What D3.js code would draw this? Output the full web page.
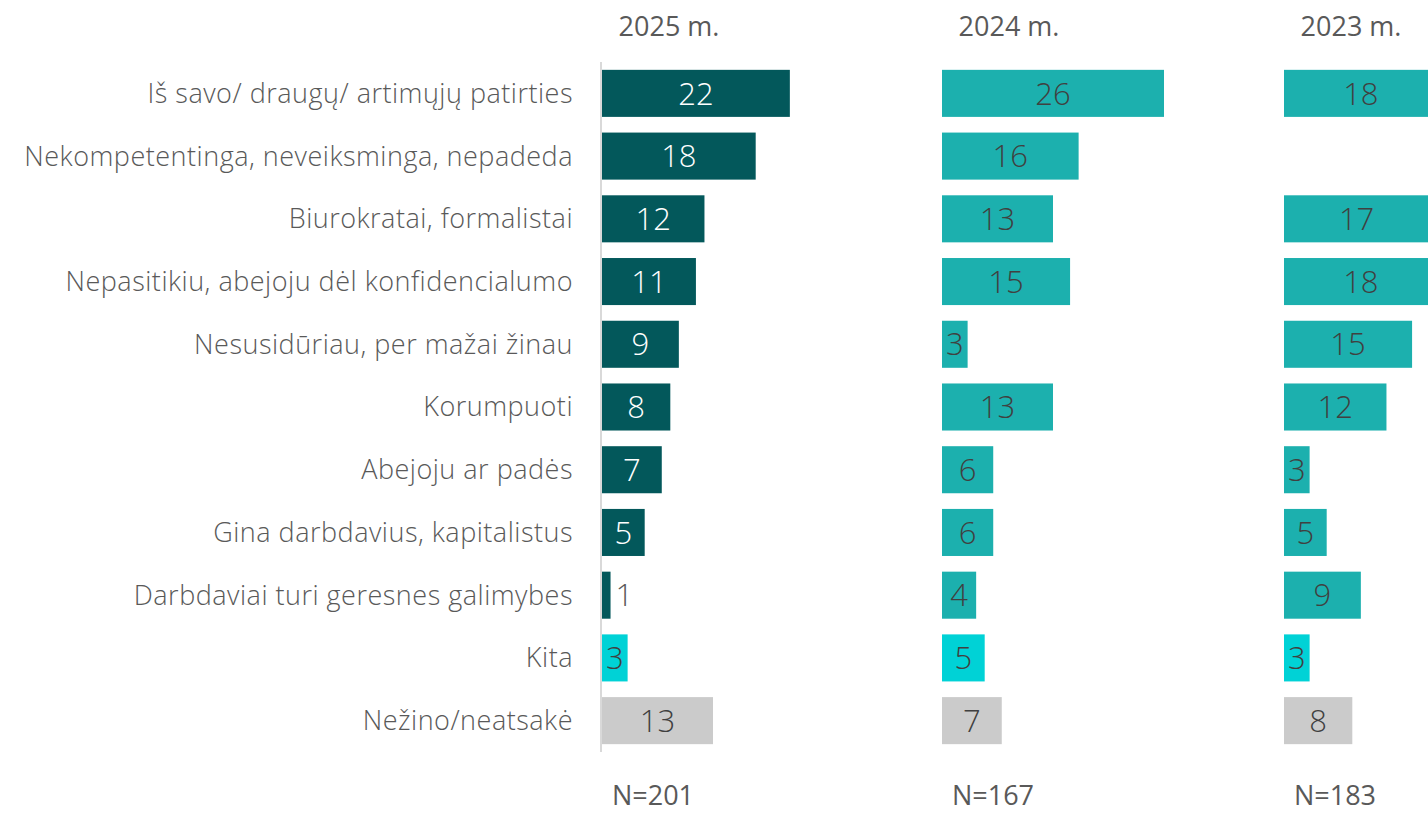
<!DOCTYPE html>
<html>
<head>
<meta charset="utf-8">
<script src="https://cdn.jsdelivr.net/npm/d3@7"></script>
<style>
  body { margin: 0; background: #fff; }
  svg text { font-family: "Segoe UI", "Open Sans", "Noto Sans", sans-serif; font-weight: 300; }
</style>
</head>
<body>
<div id="chart"></div>
<script>
// data
var categories = [
  "Iš savo/ draugų/ artimųjų patirties",
  "Nekompetentinga, neveiksminga, nepadeda",
  "Biurokratai, formalistai",
  "Nepasitikiu, abejoju dėl konfidencialumo",
  "Nesusidūriau, per mažai žinau",
  "Korumpuoti",
  "Abejoju ar padės",
  "Gina darbdavius, kapitalistus",
  "Darbdaviai turi geresnes galimybes",
  "Kita",
  "Nežino/neatsakė"
];
var years = ["2025 m.", "2024 m.", "2023 m."];
var sampleSizes = ["N=201", "N=167", "N=183"];
var values2025 = [22, 18, 12, 11, 9, 8, 7, 5, 1, 3, 13];
var values2024 = [26, 16, 13, 15, 3, 13, 6, 6, 4, 5, 7];
var values2023 = [18, null, 17, 18, 15, 12, 3, 5, 9, 3, 8];

var W = 1428, H = 815;
var svg = d3.select("#chart").append("svg")
    .attr("width", W)
    .attr("height", H);

var y = d3.scaleBand()
    .domain(categories)
    .range([62, 752])
    .paddingInner(0.25)
    .paddingOuter(0.125);

// same length scale for each panel
var x = d3.scaleLinear().domain([0, 26]).range([0, 222]);

var panels = [
  { title: years[0], n: sampleSizes[0], data: values2025, x0: 602, fill: "#03585b", textFill: "#ffffff" },
  { title: years[1], n: sampleSizes[1], data: values2024, x0: 942, fill: "#1cb0ae", textFill: "#404040" },
  { title: years[2], n: sampleSizes[2], data: values2023, x0: 1284, fill: "#1cb0ae", textFill: "#404040" }
];

function barColor(p, i) {
  if (categories[i] === "Kita") return "#00d2d6";
  if (categories[i] === "Nežino/neatsakė") return "#cbcbcb";
  return p.fill;
}
function labelColor(p, i) {
  if (categories[i] === "Kita" || categories[i] === "Nežino/neatsakė") return "#404040";
  return p.textFill;
}

// category labels
svg.append("g").selectAll("text")
    .data(categories)
    .enter().append("text")
    .attr("x", 573)
    .attr("y", function(d) { return y(d) + y.bandwidth() / 2; })
    .attr("dy", "0.35em")
    .attr("text-anchor", "end")
    .style("font-size", "27px")
    .style("letter-spacing", "0.5px")
    .style("fill", "#595959")
    .text(function(d) { return d; });

// vertical axis line in first panel
svg.append("line")
    .attr("x1", 601).attr("x2", 601)
    .attr("y1", 62).attr("y2", 752)
    .style("stroke", "#d9d9d9")
    .style("stroke-width", 2);

panels.forEach(function(p) {
  var g = svg.append("g").attr("transform", "translate(" + p.x0 + ",0)");
  var rows = p.data.map(function(v, i) { return { v: v, i: i }; })
      .filter(function(d) { return d.v !== null; });

  g.selectAll("rect")
      .data(rows)
      .enter().append("rect")
      .attr("x", 0)
      .attr("y", function(d) { return y(categories[d.i]); })
      .attr("width", function(d) { return x(d.v); })
      .attr("height", y.bandwidth())
      .style("fill", function(d) { return barColor(p, d.i); });

  g.selectAll("text.val")
      .data(rows)
      .enter().append("text")
      .attr("class", "val")
      .attr("y", function(d) { return y(categories[d.i]) + y.bandwidth() / 2; })
      .attr("dy", "0.36em")
      .style("font-size", "31px")
      .each(function(d) {
        var t = d3.select(this).text(d.v);
        var tw = this.getComputedTextLength();
        if (x(d.v) < tw - 2) {
          // bar too thin, number goes beside it
          t.attr("x", x(d.v) + 5).attr("text-anchor", "start").style("fill", "#595959");
        } else {
          t.attr("x", x(d.v) / 2).attr("text-anchor", "middle").style("fill", labelColor(p, d.i));
        }
      });

  svg.append("text")
      .attr("x", p.x0 + 67)
      .attr("y", 36)
      .attr("text-anchor", "middle")
      .style("font-size", "27px")
      .style("font-weight", 400)
      .style("fill", "#595959")
      .text(p.title);

  svg.append("text")
      .attr("x", p.x0 + 51)
      .attr("y", 805)
      .attr("text-anchor", "middle")
      .style("font-size", "27px")
      .style("font-weight", 400)
      .style("fill", "#595959")
      .text(p.n);
});
</script>
</body>
</html>
